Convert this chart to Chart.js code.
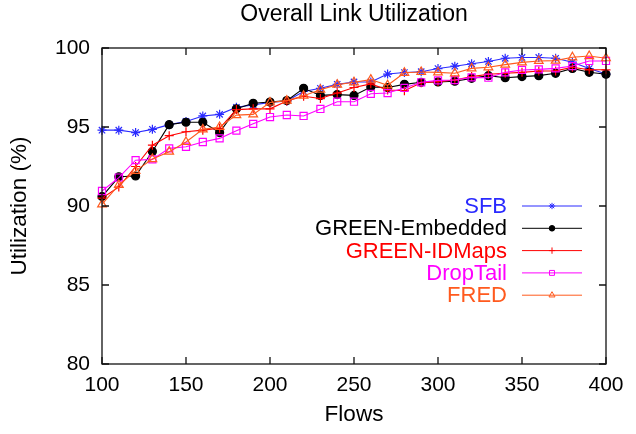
<!DOCTYPE html>
<html><head><meta charset="utf-8">
<script src="https://cdn.jsdelivr.net/npm/chart.js@4.4.0/dist/chart.umd.min.js"></script>
<style>html,body{margin:0;padding:0;background:#fff;}canvas{display:block;}</style>
</head><body>
<canvas id="c" width="636" height="434"></canvas>
<script>
const flows = [100,110,120,130,140,150,160,170,180,190,200,210,220,230,240,250,260,270,280,290,300,310,320,330,340,350,360,370,380,390,400];
const seriesNames = ["SFB","GREEN-Embedded","GREEN-IDMaps","DropTail","FRED"];
const sfb = [94.8,94.8,94.65,94.85,95.15,95.35,95.7,95.8,96.25,96.4,96.55,96.65,97.25,97.45,97.7,97.85,97.85,98.35,98.45,98.5,98.7,98.85,99.0,99.15,99.35,99.4,99.4,99.35,99.1,98.7,98.35];
const greenEmbedded = [90.6,91.85,91.9,93.45,95.15,95.3,95.3,94.65,96.15,96.5,96.58,96.67,97.45,97.0,97.05,97.0,97.53,97.5,97.7,97.83,97.85,97.9,98.08,98.25,98.12,98.19,98.25,98.4,98.71,98.46,98.34];
const greenIDMaps = [90.5,91.2,92.5,93.85,94.45,94.7,94.8,94.92,96.1,96.15,96.15,96.65,96.95,96.8,97.15,97.5,97.73,97.34,97.3,97.8,97.87,97.97,98.19,98.34,98.4,98.46,98.54,98.55,98.78,98.62,98.62];
const dropTail = [90.95,91.8,92.9,92.95,93.65,93.75,94.05,94.28,94.77,95.2,95.63,95.76,95.7,96.14,96.6,96.6,97.1,97.15,97.47,97.83,97.95,97.97,98.14,98.12,98.46,98.61,98.65,98.71,98.86,99.18,99.18];
const fred = [90.1,91.33,92.22,92.97,93.44,94.05,94.85,95.0,95.75,95.8,96.55,96.67,96.98,97.36,97.68,97.83,98.0,97.64,98.43,98.48,98.46,98.4,98.71,98.78,98.95,99.09,99.18,99.2,99.41,99.49,99.35];
const xTicks = [100,150,200,250,300,350,400];
const yTicks = [80,85,90,95,100];

const FONT = "'Liberation Sans', Arial, Helvetica, sans-serif";
const mk = (vals) => vals.map((v,i)=>({x:flows[i], y:v}));
const styles = [
  {c:'#2a2aff', ps:'star', r:4.5, bg:'#2a2aff'},
  {c:'#000000', ps:'circle', r:4, bg:'#000000'},
  {c:'#ff0000', ps:'cross', r:4.5, bg:'#ff0000'},
  {c:'#ff00ff', ps:'rect', r:5, bg:'rgba(0,0,0,0)'},
  {c:'#ff5a1e', ps:'triangle', r:5, bg:'rgba(0,0,0,0)'}
];
const allData = [sfb, greenEmbedded, greenIDMaps, dropTail, fred];
const datasets = allData.map((d,i)=>({
  label: seriesNames[i], data: mk(d),
  borderColor: styles[i].c, backgroundColor: styles[i].bg,
  pointBorderColor: styles[i].c, pointBackgroundColor: styles[i].bg,
  pointStyle: styles[i].ps, pointRadius: styles[i].r, pointBorderWidth: 1.2,
  borderWidth: 1.1, tension: 0, clip: false, order: 5 - i
}));

const framePlugin = {
  id: 'frame',
  afterDraw(chart) {
    const {ctx, chartArea: a, scales} = chart;
    ctx.save();
    ctx.strokeStyle = '#111'; ctx.lineWidth = 1.3;
    ctx.strokeRect(a.left, a.top, a.right - a.left, a.bottom - a.top);
    ctx.beginPath();
    const L = 7;
    xTicks.forEach(v => { const p = scales.x.getPixelForValue(v);
      ctx.moveTo(p, a.bottom); ctx.lineTo(p, a.bottom - L);
      ctx.moveTo(p, a.top); ctx.lineTo(p, a.top + L); });
    yTicks.forEach(v => { const p = scales.y.getPixelForValue(v);
      ctx.moveTo(a.left, p); ctx.lineTo(a.left + L, p);
      ctx.moveTo(a.right, p); ctx.lineTo(a.right - L, p); });
    ctx.stroke();
    ctx.restore();
  }
};

const legendPlugin = {
  id: 'customLegend',
  afterDatasetsDraw(chart) {
    const {ctx} = chart;
    const textRight = 507, lineL = 522, lineR = 582, y0 = 206, dy = 22.3;
    ctx.save();
    chart.data.datasets.forEach((ds, i) => {
      const y = y0 + i * dy;
      ctx.font = `22px ${FONT}`;
      ctx.fillStyle = ds.borderColor; ctx.textAlign = 'right'; ctx.textBaseline = 'middle';
      ctx.fillText(ds.label, textRight, y + 1);
      ctx.strokeStyle = ds.borderColor; ctx.lineWidth = 1;
      ctx.beginPath(); ctx.moveTo(lineL, y); ctx.lineTo(lineR, y); ctx.stroke();
      ctx.fillStyle = ds.pointBackgroundColor;
      Chart.helpers.drawPoint(ctx, {pointStyle: ds.pointStyle, radius: ds.pointRadius * 0.7, borderWidth: 1, rotation: 0}, (lineL + lineR) / 2, y);
    });
    ctx.restore();
  }
};

new Chart(document.getElementById('c'), {
  type: 'line',
  data: { datasets },
  options: {
    responsive: false, animation: false,
    layout: { padding: { left: 0, right: 30, top: 0, bottom: 0 } },
    plugins: {
      legend: { display: false }, tooltip: { enabled: false },
      title: { display: true, text: 'Overall Link Utilization', color: '#000', fullSize: false,
        font: { family: FONT, size: 23, weight: 'normal' }, padding: { top: 1.2, bottom: 19.2 } }
    },
    scales: {
      x: { type: 'linear', min: 100, max: 400,
        afterFit: s => { s.height = 70; },
        afterBuildTicks: s => { s.ticks = xTicks.map(v => ({value: v})); },
        grid: { display: false, drawTicks: false }, border: { display: false },
        ticks: { color: '#000', font: { family: FONT, size: 21 }, padding: 8.4, maxRotation: 0, autoSkip: false },
        title: { display: true, text: 'Flows', color: '#000', font: { family: FONT, size: 22.5 }, padding: { top: 0, bottom: 5.5 } }
      },
      y: { type: 'linear', min: 80, max: 100,
        afterFit: s => { s.width = 102; },
        afterBuildTicks: s => { s.ticks = yTicks.map(v => ({value: v})); },
        grid: { display: false, drawTicks: false }, border: { display: false },
        ticks: { color: '#000', font: { family: FONT, size: 21 }, padding: 12, autoSkip: false },
        title: { display: true, text: 'Utilization (%)', color: '#000', font: { family: FONT, size: 22.5 }, padding: { top: 6.5, bottom: 0 } }
      }
    }
  },
  plugins: [framePlugin, legendPlugin]
});
</script>
</body></html>
